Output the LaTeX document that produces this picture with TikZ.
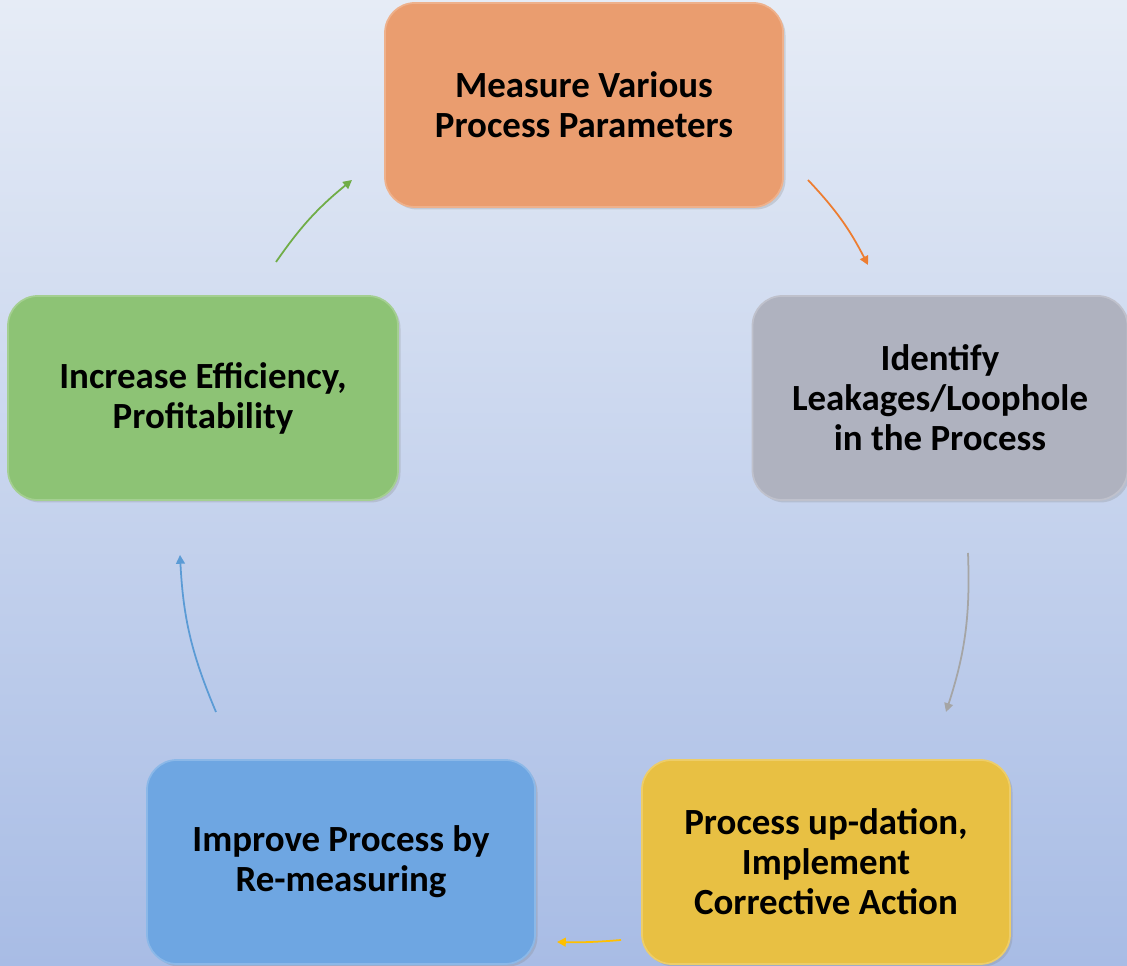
\documentclass[tikz,border=0pt]{standalone}
\usepackage{fontspec}
\setmainfont{Carlito}
\usetikzlibrary{arrows.meta,shadows}

\definecolor{bgtop}{HTML}{E6ECF6}
\definecolor{bgbot}{HTML}{A8BCE5}
\definecolor{cOrange}{HTML}{EA9D6F}
\definecolor{cGray}{HTML}{AFB2BF}
\definecolor{cYellow}{HTML}{E8C043}
\definecolor{cBlue}{HTML}{6EA6E2}
\definecolor{cGreen}{HTML}{8DC375}
\definecolor{aOrange}{HTML}{ED7D31}
\definecolor{aGray}{HTML}{A5A5A5}
\definecolor{aYellow}{HTML}{FFC000}
\definecolor{aBlue}{HTML}{5B9BD5}
\definecolor{aGreen}{HTML}{70AD47}

\begin{document}
\begin{tikzpicture}[
 phase/.style={rectangle, rounded corners=17pt, minimum height=4.08cm, align=center,
   font=\fontsize{21}{22.7}\selectfont\bfseries, line width=1pt,
   drop shadow={shadow xshift=0.5mm, shadow yshift=-0.5mm, opacity=0.25}},
 arr/.style={-{Triangle[length=5pt,width=5pt]}, line width=1pt, bend left=8},
]
\shade[top color=bgtop, bottom color=bgbot] (0,0) rectangle (22.54,19.32);
\useasboundingbox (0,0) rectangle (22.54,19.32);

\node[phase, fill=cOrange, draw=cOrange!80!white, minimum width=7.96cm] (measure) at (11.68,17.22) {Measure Various\\Process Parameters};
\node[phase, fill=cGray, draw=cGray!80!white, minimum width=7.5cm] (identify) at (18.80,11.36) {Identify\\Leakages/Loophole\\in the Process};
\node[phase, fill=cYellow, draw=cYellow!80!white, minimum width=7.36cm] (update) at (16.52,2.08) {Process up-dation,\\Implement\\Corrective Action};
\node[phase, fill=cBlue, draw=cBlue!80!white, minimum width=7.76cm] (improve) at (6.82,2.08) {Improve Process by\\Re-measuring};
\node[phase, fill=cGreen, draw=cGreen!80!white, minimum width=7.8cm] (increase) at (4.06,11.36) {Increase Efficiency,\\Profitability};

% arrow ends
\coordinate (o1) at (16.16,15.72);
\coordinate (o2) at (17.36,14.02);
\coordinate (g1) at (19.36,8.26);
\coordinate (g2) at (18.92,5.08);
\coordinate (y1) at (12.42,0.52);
\coordinate (y2) at (11.14,0.48);
\coordinate (b1) at (4.32,5.08);
\coordinate (b2) at (3.60,8.22);
\coordinate (e1) at (5.52,14.08);
\coordinate (e2) at (7.04,15.72);

% cycle
\draw[arr, aOrange] (o1) to (o2);
\draw[arr, aGray, bend left=10] (g1) to (g2);
\draw[arr, aYellow, bend left=3] (y1) to (y2);
\draw[arr, aBlue, bend left=10] (b1) to (b2);
\draw[arr, aGreen] (e1) to (e2);

\end{tikzpicture}
\end{document}
